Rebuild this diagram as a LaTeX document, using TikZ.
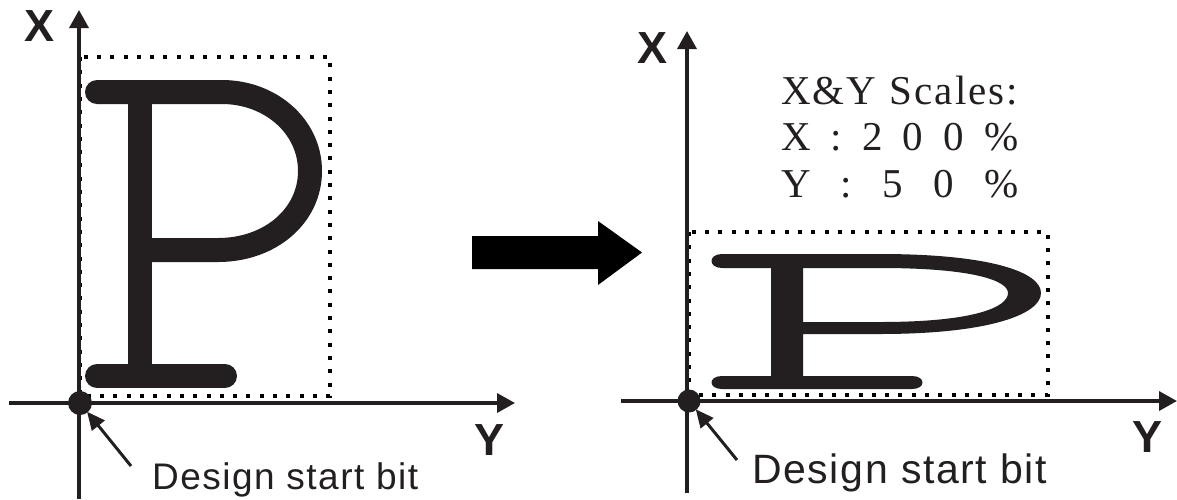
\documentclass[tikz,border=0pt]{standalone}
\usepackage{fontspec}
\setmainfont{Liberation Serif}
\newfontfamily\arialbold{Liberation Sans}[BoldFont={Liberation Sans Bold}]
\newfontfamily\arialspaced{Liberation Sans}[LetterSpace=4]
\newfontfamily\timesspaced{Liberation Serif}[LetterSpace=5]
\usetikzlibrary{arrows.meta}
\definecolor{ink}{RGB}{35,31,32}
\tikzset{
  axis/.style={line width=3.5pt, draw=ink, -{Triangle[length=18pt,width=19pt]}},
  axisplain/.style={line width=3.5pt, draw=ink},
  dotted box/.style={draw=black, line width=4pt, dash pattern=on 4pt off 9.3pt},
  origin dot/.style={circle, fill=ink, inner sep=0pt, minimum size=24pt},
  ptr/.style={line width=3pt, draw=ink, -{Triangle[length=18pt,width=16pt]}, shorten >=-1pt},
  axlabel/.style={inner sep=0pt, font=\fontsize{45}{50}\selectfont\arialbold\bfseries, text=ink},
  startlbl/.style={inner sep=0pt, anchor=base west, text=ink},
  scaleline/.style={inner sep=0pt, anchor=base west, text=ink, font=\fontsize{41}{46}\selectfont}
}
\begin{document}
\begin{tikzpicture}[x=1pt,y=-1pt]
\useasboundingbox (0,0) rectangle (1177,499);

% ---------------- left panel ----------------
\draw[dotted box] (80,57) rectangle (330,396);
\coordinate (lvb) at (79,499);
\coordinate (lvt) at (79,10);
\coordinate (lhl) at (9,403);
\coordinate (lhr) at (515,403);
\draw[axis] (lvb) -- (lvt);
\draw[axis] (lhl) -- (lhr);
\node[axlabel] (lx) at (40,26.5) {X};
\node[axlabel] (ly) at (490,440) {Y};
% letter P
\draw[ink, line width=24pt, line cap=round] (97,92) -- (222,92)
  .. controls (270,92) and (310,126) .. (310,171)
  .. controls (310,216) and (270,250) .. (218,250) -- (140,250);
\draw[ink, line width=24pt] (140,92) -- (140,376);
\draw[ink, line width=24pt, line cap=round] (97,376) -- (225,376);
\node[origin dot] (dotL) at (80,403) {};
\coordinate (ptrL) at (131,466);
\draw[ptr] (ptrL) -- (dotL);
\node[startlbl, font=\fontsize{37}{42}\selectfont\arialspaced] (txtL) at (152,489) {Design start bit};

% ---------------- middle arrow ----------------
\fill[black] (472,236) -- (598,236) -- (598,221) -- (642,252.5) -- (598,285) -- (598,269) -- (472,269) -- cycle;

% ---------------- right panel ----------------
\draw[dotted box] (689,232) rectangle (1048,395);
\coordinate (rvb) at (687,493);
\coordinate (rvt) at (687,31);
\coordinate (rhl) at (621,401);
\coordinate (rhr) at (1177,401);
\draw[axis] (rvb) -- (rvt);
\draw[axis] (rhl) -- (rhr);
\node[axlabel] (rx) at (652,48.5) {X};
\node[axlabel] (ry) at (1147,437.5) {Y};
% scaled letter P
\fill[ink, even odd rule] (722,254) -- (880,254)
  .. controls (990,254) and (1041,272) .. (1041,293)
  .. controls (1041,314) and (990,334) .. (880,334) -- (803,334) -- (803,376) -- (912,376)
  .. controls (926,376) and (926,389) .. (912,389) -- (722,389)
  .. controls (708,389) and (708,376) .. (722,376) -- (771,376) -- (771,268) -- (722,268)
  .. controls (708,268) and (708,254) .. (722,254) -- cycle
  (803,268) -- (880,268) .. controls (975,268) and (1008,281) .. (1008,293)
  .. controls (1008,307) and (975,322) .. (880,322) -- (803,322) -- cycle;
\node[origin dot, minimum size=23pt] (dotR) at (689,401) {};
\coordinate (ptrR) at (737,460);
\draw[ptr] (ptrR) -- (dotR);
\node[startlbl, font=\fontsize{41}{46}\selectfont\arialspaced] (txtR) at (752,483) {Design start bit};

% scale text
\node[scaleline] (s1) at (781,104) {\makebox[237pt][s]{\timesspaced X\&Y Scales:}};
\node[scaleline] (s2) at (781,150) {\makebox[237pt][s]{X\hfill:\hfill2\hfill0\hfill0\hfill\%}};
\node[scaleline] (s3) at (781,197) {\makebox[237pt][s]{Y\hfill:\hfill5\hfill0\hfill\%}};
\end{tikzpicture}
\end{document}
